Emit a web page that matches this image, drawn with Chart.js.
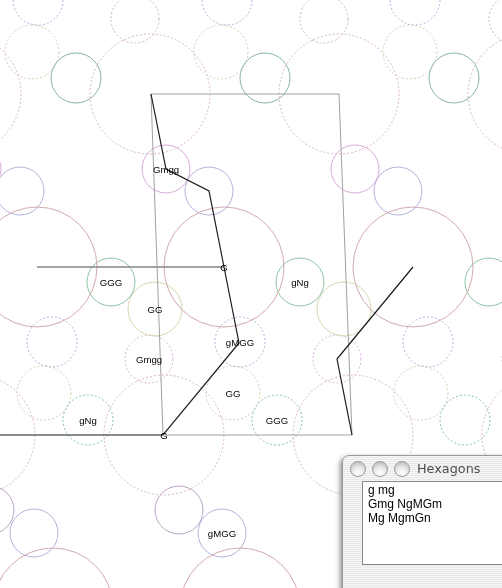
<!DOCTYPE html>
<html>
<head>
<meta charset="utf-8">
<title>Hexagons</title>
<script src="https://cdn.jsdelivr.net/npm/chart.js@4.4.1/dist/chart.umd.min.js"></script>
<style>
  html, body { margin: 0; padding: 0; background: #fff; overflow: hidden; }
  #wrap { position: relative; width: 502px; height: 588px; overflow: hidden; }
  #myChart { position: absolute; left: 0; top: 0; }
  .win {
    position: absolute; left: 342px; top: 455px; width: 220px; height: 160px;
    border-top-left-radius: 7px; border-top-right-radius: 7px;
    background: repeating-linear-gradient(#f6f6f6 0px, #f6f6f6 1px, #e9e9e9 1px, #e9e9e9 2px);
    border: 1px solid #9a9a9a;
    box-shadow: -2px 2px 5px rgba(0,0,0,0.45);
    font-family: "Liberation Sans", Arial, sans-serif;
  }
  .btn {
    position: absolute; top: 5px; width: 14px; height: 14px; border-radius: 50%;
    border: 1px solid #9c9c9c;
    background: radial-gradient(circle at 50% 78%, #ffffff 0%, #ececec 40%, #c4c4c4 80%, #b0b0b0 100%);
  }
  .title {
    position: absolute; left: 74px; top: 5px; font: 12.8px "DejaVu Sans", sans-serif;
    color: #4d4d4d;
  }
  .box {
    position: absolute; left: 19px; top: 25px; width: 200px; height: 84px;
    background: #fff; border: 1px solid #8a8a8a; border-right: none;
    padding: 1px 0 0 5px; box-sizing: border-box;
    font-size: 12px; line-height: 14px; color: #000;
  }
</style>
</head>
<body>
<div id="wrap">
  <canvas id="myChart" width="502" height="588" style="width:502px;height:588px"></canvas>
  <div class="win">
    <div class="btn" style="left:7px"></div>
    <div class="btn" style="left:29px"></div>
    <div class="btn" style="left:51px"></div>
    <div class="title">Hexagons</div>
    <div class="box">g mg<br>Gmg NgMGm<br>Mg MgmGn</div>
  </div>
</div>
<script>
// circle centres [x, y]
var lavenderDashed = [[38, 0], [227, 0], [415, 0], [52, 342], [240, 342], [428, 342]];
var mauveDashed = [[135, 19], [324, 19], [513, 19]];
var orchidDashed = [[-40, 359], [149, 359], [337, 359], [526, 359]];
var oliveDashed = [[32, 52], [221, 52], [410, 52], [44, 393], [233, 393], [421, 393]];
var tealSolid = [[76, 78], [265, 78], [454, 78]];
var tealDashed = [[88, 420], [277, 420], [465, 420]];
var pinkBigDashed = [[-39, 94], [150, 94], [339, 94], [528, 94], [-25, 435], [164, 435], [353, 435], [542, 435]];
var orchidSolid = [[-23, 169], [166, 169], [355, 169]];
var lavenderSolid = [[20, 191], [209, 191], [398, 191], [34, 533], [222, 533], [411, 533]];
var mauveSolid = [[-10, 510], [179, 510], [368, 510]];
var roseBigSolid = [[37, 267], [224, 267], [413, 267], [53, 608], [240, 608], [429, 608]];
var greenSolid = [[111, 282], [300, 282], [489, 282]];
var oliveSolid = [[-34, 309], [155, 309], [344, 309]];

// circle radii
var smallR = 24;
var oliveR = 27;
var bigR = 60;

// paths
var blackPath1 = [[151, 94], [166, 169], [209, 191], [224, 267], [239, 343], [163, 435], [0, 435]];
var blackPath2 = [[413, 267], [337, 359], [352, 435]];
var grayQuad = [[151, 94], [339, 94], [352, 435], [163, 435], [151, 94]];
var grayBar = [[37, 267], [224, 267]];

// labels
var labelText = ['Gmgg', 'G', 'GGG', 'gNg', 'GG', 'gMGG', 'Gmgg', 'GG', 'gNg', 'GGG', 'G', 'gMGG'];
var labelX = [166, 224, 111, 300, 155, 240, 149, 233, 88, 277, 164, 222];
var labelY = [170, 268, 283, 283, 310, 343, 360, 394, 421, 421, 436, 534];

function pts(list, r) {
    var out = [];
    for (var i = 0; i < list.length; i++) {
        out.push({x: list[i][0], y: list[i][1], r: r});
    }
    return out;
}

function circles(list, r, color, dashed) {
    return {
        type: 'bubble',
        data: pts(list, r),
        backgroundColor: 'rgba(0,0,0,0)',
        borderColor: color,
        borderWidth: 1,
        hoverBorderWidth: 1,
        dash: dashed ? [2, 2] : null,
        clip: false
    };
}

function path(list, color, width) {
    return {
        type: 'line',
        data: pts(list, 0),
        borderColor: color,
        borderWidth: width,
        pointRadius: 0,
        tension: 0,
        fill: false,
        clip: false
    };
}

var dashPlugin = {
    id: 'dashPlugin',
    beforeDatasetDraw: function (chart, args) {
        var ds = chart.data.datasets[args.index];
        chart.ctx.setLineDash(ds.dash ? ds.dash : []);
    },
    afterDatasetDraw: function (chart) {
        chart.ctx.setLineDash([]);
    }
};

var labelPlugin = {
    id: 'labelPlugin',
    afterDatasetsDraw: function (chart) {
        var ctx = chart.ctx;
        ctx.save();
        ctx.font = '9.6px "Liberation Sans", Arial, sans-serif';
        ctx.fillStyle = '#000';
        ctx.textAlign = 'center';
        ctx.textBaseline = 'middle';
        for (var i = 0; i < labelText.length; i++) {
            var px = chart.scales.x.getPixelForValue(labelX[i]);
            var py = chart.scales.y.getPixelForValue(labelY[i]);
            ctx.fillText(labelText[i], px, py);
        }
        ctx.restore();
    }
};

var data = {
    datasets: [
        path(blackPath1, '#1c1c1c', 1.2),
        path(blackPath2, '#1c1c1c', 1.2),
        path(grayBar, '#858585', 1.6),
        path(grayQuad, '#a0a0a0', 1),
        circles(roseBigSolid, bigR, '#d2a8ae', false),
        circles(pinkBigDashed, bigR, '#d9b4c0', true),
        circles(greenSolid, smallR, '#8cc4a2', false),
        circles(oliveSolid, oliveR, '#d6d6b0', false),
        circles(tealSolid, smallR + 1, '#86b4a6', false),
        circles(tealDashed, smallR + 1, '#86c0ae', true),
        circles(orchidSolid, smallR, '#d8aad8', false),
        circles(lavenderSolid, smallR, '#b6b0da', false),
        circles(mauveSolid, smallR, '#bca4c4', false),
        circles(lavenderDashed, smallR + 1, '#b0b0dc', true),
        circles(mauveDashed, smallR, '#ccaecc', true),
        circles(orchidDashed, smallR, '#d8aede', true),
        circles(oliveDashed, oliveR, '#cfcfae', true)
    ]
};

var ctx = document.getElementById("myChart");
var myChart = new Chart(ctx, {
    type: 'bubble',
    data: data,
    plugins: [dashPlugin, labelPlugin],
    options: {
        responsive: false,
        maintainAspectRatio: false,
        animation: false,
        events: [],
        layout: {padding: 0, autoPadding: false},
        plugins: {legend: {display: false}, tooltip: {enabled: false}},
        scales: {
            x: {type: 'linear', min: 0, max: 502, display: false},
            y: {type: 'linear', min: 0, max: 588, reverse: true, display: false}
        }
    }
});
</script>
</body>
</html>
